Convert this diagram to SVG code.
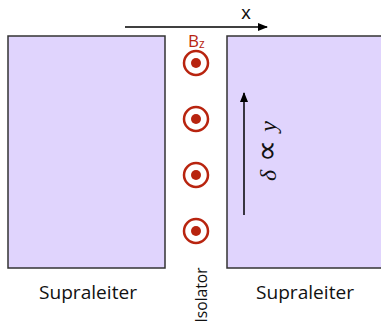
<svg xmlns="http://www.w3.org/2000/svg" width="381" height="334" viewBox="0 0 381 334">
<style>
.sc{fill:#e0d4fd;stroke:#333;stroke-width:1.5}
.lbl{font-family:"Open Sans","Liberation Sans",sans-serif;fill:#111}
.ring{fill:none;stroke:#b8240f;stroke-width:2.5}
.dot{fill:#b8240f}
</style>
<defs>
<marker id="ah" viewBox="0 0 10 10" refX="9" refY="5" markerWidth="10" markerHeight="10" markerUnits="userSpaceOnUse" orient="auto">
<path d="M0,1 L10,5 L0,9 Z" fill="#000"/>
</marker>
</defs>
<rect width="381" height="334" fill="#fff"/>
<g id="left">
<rect class="sc" x="8" y="36" width="157" height="232"/>
<text class="lbl" x="88" y="299" font-size="18.5" text-anchor="middle" textLength="98" lengthAdjust="spacingAndGlyphs">Supraleiter</text>
</g>
<g id="right">
<path class="sc" d="M383,36 H227 V268 H383"/>
<text class="lbl" x="305" y="299" font-size="18.5" text-anchor="middle" textLength="98" lengthAdjust="spacingAndGlyphs">Supraleiter</text>
</g>
<g id="isolator">
<text class="lbl" transform="translate(207,295) rotate(-90)" font-size="15.5" text-anchor="middle" textLength="55" lengthAdjust="spacingAndGlyphs">Isolator</text>
</g>
<g id="field">
<text class="lbl" x="188" y="47" font-size="17" style="fill:#b8240f">B<tspan font-size="12" dy="1">z</tspan></text>
<circle class="ring" cx="196" cy="63" r="12"/><circle class="dot" cx="196" cy="63" r="5"/>
<circle class="ring" cx="196" cy="119" r="12"/><circle class="dot" cx="196" cy="119" r="5"/>
<circle class="ring" cx="196" cy="175" r="12"/><circle class="dot" cx="196" cy="175" r="5"/>
<circle class="ring" cx="196" cy="231" r="12"/><circle class="dot" cx="196" cy="231" r="5"/>
</g>
<g id="connectors">
<line x1="125" y1="27" x2="267" y2="27" stroke="#000" stroke-width="1.5" marker-end="url(#ah)"/>
<line x1="244" y1="215" x2="244" y2="93" stroke="#000" stroke-width="1.5" marker-end="url(#ah)"/>
</g>
<text x="246" y="19" font-family="Liberation Sans,Arial,sans-serif" font-size="19" text-anchor="middle" fill="#111">x</text>
<text transform="translate(276,151) rotate(-90)" text-anchor="middle" font-family="Liberation Serif,serif" font-style="italic" font-size="24" word-spacing="2" fill="#111">δ <tspan font-style="normal" font-size="31" dy="1">∝</tspan><tspan dy="-1"> y</tspan></text>
</svg>
